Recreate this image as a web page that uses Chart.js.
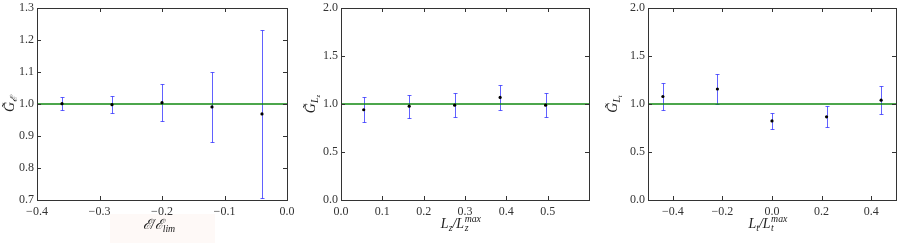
<!DOCTYPE html>
<html>
<head>
<meta charset="utf-8">
<script src="https://cdn.jsdelivr.net/npm/chart.js@4"></script>
<style>
    body { margin: 0; background: #fff; }
    #wrap { position: relative; width: 900px; height: 243px; overflow: hidden; }
    canvas { position: absolute; top: 0; }
    .lbl { position: absolute; font-family: 'Liberation Serif', 'DejaVu Serif', serif; font-style: italic;
           font-size: 14px; color: #222; white-space: nowrap; transform: translate(-50%, -50%); line-height: 1; }
    .ylbl { transform: translate(-50%, -50%) rotate(-90deg); }
    .lbl sub { font-size: 70%; vertical-align: -0.3em; }
    .ss { position: relative; display: inline-block; width: 1.5em; height: 1em; vertical-align: baseline; }
    .ss .sp, .ss .sb { position: absolute; left: 0.05em; font-size: 70%; }
    .ss .sp { top: -0.05em; }
    .ss .sb { top: 0.95em; }
    #pink { position: absolute; left: 110px; top: 214px; width: 105px; height: 29px; background: #fef9f7; }
</style>
</head>
<body>
<div id="wrap">
    <div id="pink"></div>
    <canvas id="chartE" width="300" height="243" style="left:0"></canvas>
    <canvas id="chartZ" width="300" height="243" style="left:300px"></canvas>
    <canvas id="chartT" width="300" height="243" style="left:600px"></canvas>

    <div class="lbl" style="left:159px;top:226px">ℰ/ℰ<sub>lim</sub></div>
    <div class="lbl ylbl" style="left:11px;top:104px">G̃<sub>ℰ</sub></div>

    <div class="lbl" style="left:463px;top:223px">L<sub>z</sub>/L<span class="ss"><span class="sp">max</span><span class="sb">z</span></span></div>
    <div class="lbl ylbl" style="left:313px;top:104px">G̃<sub>L<sub>z</sub></sub></div>

    <div class="lbl" style="left:770px;top:223px">L<sub>t</sub>/L<span class="ss"><span class="sp">max</span><span class="sb">t</span></span></div>
    <div class="lbl ylbl" style="left:615px;top:104px">G̃<sub>L<sub>t</sub></sub></div>
</div>
<script>
// panel 1: energy
const eX = [-0.36, -0.28, -0.20, -0.12, -0.04];
const eY = [1.001, 0.998, 1.004, 0.991, 0.969];
const eErr = [0.021, 0.027, 0.058, 0.110, 0.262];
const eTicksX = [-0.4, -0.3, -0.2, -0.1, 0.0];
const eTicksY = [0.7, 0.8, 0.9, 1.0, 1.1, 1.2, 1.3];

// panel 2: L_z
const zX = [0.055, 0.165, 0.275, 0.385, 0.495];
const zY = [0.940, 0.977, 0.988, 1.068, 0.988];
const zErr = [0.129, 0.121, 0.125, 0.135, 0.122];
const zTicksX = [0.0, 0.1, 0.2, 0.3, 0.4, 0.5];
const zTicksY = [0.0, 0.5, 1.0, 1.5, 2.0];

// panel 3: L_t
const tX = [-0.44, -0.22, 0.0, 0.22, 0.44];
const tY = [1.078, 1.156, 0.824, 0.866, 1.040];
const tErr = [0.142, 0.155, 0.087, 0.108, 0.146];
const tTicksX = [-0.4, -0.2, 0.0, 0.2, 0.4];
const tTicksY = [0.0, 0.5, 1.0, 1.5, 2.0];

const refY = 1.0;

function fmt(v) {
    const s = Math.abs(v).toFixed(1);
    return v < -1e-9 ? '\u2212' + s : s;
}

// matplotlib style frame with inward ticks on all sides
const frameTicks = {
    id: 'frameTicks',
    afterDraw(chart) {
        const { ctx, chartArea: a, scales: { x, y } } = chart;
        ctx.save();
        ctx.strokeStyle = '#333';
        ctx.lineWidth = 1;
        ctx.beginPath();
        x.ticks.forEach(t => {
            const px = Math.round(x.getPixelForValue(t.value)) + 0.5;
            ctx.moveTo(px, a.bottom); ctx.lineTo(px, a.bottom - 4);
            ctx.moveTo(px, a.top); ctx.lineTo(px, a.top + 4);
        });
        y.ticks.forEach(t => {
            const py = Math.round(y.getPixelForValue(t.value)) + 0.5;
            ctx.moveTo(a.left, py); ctx.lineTo(a.left + 4, py);
            ctx.moveTo(a.right, py); ctx.lineTo(a.right - 4, py);
        });
        ctx.stroke();
        ctx.strokeRect(Math.round(a.left) + 0.5, Math.round(a.top) + 0.5,
            Math.round(a.right - a.left), Math.round(a.bottom - a.top));
        ctx.restore();
    }
};

const errorBars = {
    id: 'errorBars',
    beforeDatasetsDraw(chart) {
        const { ctx, scales: { x, y } } = chart;
        chart.data.datasets.forEach(ds => {
            if (!ds.errors) return;
            ctx.save();
            ctx.strokeStyle = 'rgba(30,30,255,0.7)';
            ctx.lineWidth = 1;
            ds.data.forEach((p, i) => {
                const px = Math.round(x.getPixelForValue(p.x)) + 0.5;
                const top = Math.round(y.getPixelForValue(p.y + ds.errors[i])) + 0.5;
                const bot = Math.round(y.getPixelForValue(p.y - ds.errors[i])) + 0.5;
                ctx.beginPath();
                ctx.moveTo(px, top); ctx.lineTo(px, bot);
                ctx.moveTo(px - 2, top); ctx.lineTo(px + 2, top);
                ctx.moveTo(px - 2, bot); ctx.lineTo(px + 2, bot);
                ctx.stroke();
            });
            ctx.restore();
        });
    }
};

function makePanel(id, xs, ys, errs, xTicks, yTicks, xMin, xMax, yMin, yMax, left, right) {
    const font = { family: "'Liberation Serif', serif", size: 12 };
    new Chart(document.getElementById(id), {
        type: 'scatter',
        data: {
            datasets: [{
                type: 'scatter',
                data: xs.map((v, i) => ({ x: v, y: ys[i] })),
                errors: errs,
                pointRadius: 1.6,
                pointBackgroundColor: '#000',
                pointBorderWidth: 0
            }, {
                type: 'line',
                data: [{ x: xMin, y: refY }, { x: xMax, y: refY }],
                borderColor: '#118811',
                borderWidth: 1.6,
                pointRadius: 0
            }]
        },
        options: {
            responsive: false,
            animation: false,
            layout: { padding: { top: 8, right: 300 - right, left: 0, bottom: 0 } },
            plugins: { legend: { display: false }, tooltip: { enabled: false } },
            scales: {
                x: {
                    type: 'linear', min: xMin, max: xMax,
                    grid: { display: false, drawTicks: false },
                    border: { display: false },
                    ticks: { padding: 5, color: '#333', font: font, maxRotation: 0, callback: v => fmt(v) },
                    afterBuildTicks: s => { s.ticks = xTicks.map(v => ({ value: v })); },
                    afterFit: s => { s.height = 43; s.paddingLeft = 0; s.paddingRight = 0; }
                },
                y: {
                    type: 'linear', min: yMin, max: yMax,
                    grid: { display: false, drawTicks: false },
                    border: { display: false },
                    ticks: { padding: 3, color: '#333', font: font, callback: v => fmt(v) },
                    afterBuildTicks: s => { s.ticks = yTicks.map(v => ({ value: v })); },
                    afterFit: s => { s.width = left; s.paddingTop = 0; s.paddingBottom = 0; }
                }
            }
        },
        plugins: [errorBars, frameTicks]
    });
}

makePanel('chartE', eX, eY, eErr, eTicksX, eTicksY, -0.4, 0.0, 0.7, 1.3, 37, 287);
makePanel('chartZ', zX, zY, zErr, zTicksX, zTicksY, 0.0, 0.6, 0.0, 2.0, 41, 289);
makePanel('chartT', tX, tY, tErr, tTicksX, tTicksY, -0.5, 0.5, 0.0, 2.0, 48, 296);
</script>
</body>
</html>
